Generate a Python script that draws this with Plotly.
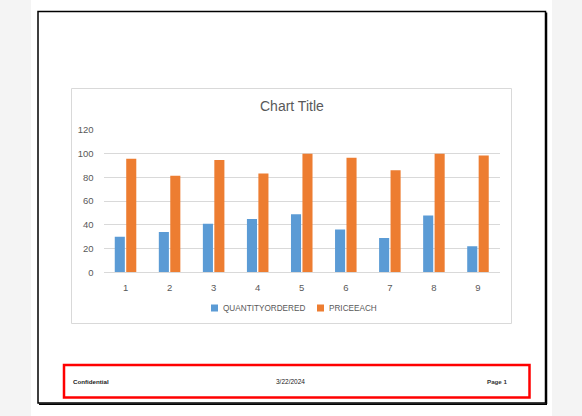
import plotly.graph_objects as go

categories = [1, 2, 3, 4, 5, 6, 7, 8, 9]
quantity_ordered = [30, 34, 41, 45, 49, 36, 29, 48, 22]
price_each = [95.7, 81.35, 94.74, 83.26, 100, 96.66, 86.13, 100, 98.57]
y_ticks = [0, 20, 40, 60, 80, 100, 120]
series_names = ["QUANTITYORDERED", "PRICEEACH"]
series_colors = ["#5B9BD5", "#ED7D31"]

W, H = 582, 416


def px(x):
    return x / W


def py(y):
    return 1 - y / H


fig = go.Figure()
for name, vals, col in zip(series_names, [quantity_ordered, price_each], series_colors):
    fig.add_trace(go.Bar(x=categories, y=vals, name=name,
                         marker=dict(color=col, line=dict(width=0))))

shapes = [
    # white page
    dict(type="rect", xref="paper", yref="paper", x0=px(31), x1=px(552), y0=py(416), y1=py(0),
         fillcolor="white", line=dict(width=0), layer="below"),
    # black page border
    dict(type="rect", xref="paper", yref="paper", x0=px(38), x1=px(545.5), y0=py(403), y1=py(11.5),
         fillcolor="rgba(0,0,0,0)", line=dict(color="black", width=1.5), layer="below"),
    dict(type="line", xref="paper", yref="paper", x0=px(546.5), x1=px(546.5), y0=py(404), y1=py(12.5),
         line=dict(color="black", width=1.5), layer="below"),
    dict(type="line", xref="paper", yref="paper", x0=px(39), x1=px(547), y0=py(404.2), y1=py(404.2),
         line=dict(color="black", width=1.5), layer="below"),
    # chart area
    dict(type="rect", xref="paper", yref="paper", x0=px(71.5), x1=px(511.5), y0=py(323.5), y1=py(88.5),
         fillcolor="white", line=dict(color="#D9D9D9", width=1), layer="below"),
    # red footer box
    dict(type="rect", xref="paper", yref="paper", x0=px(64), x1=px(529.5), y0=py(397.5), y1=py(365),
         fillcolor="rgba(0,0,0,0)", line=dict(color="#FF0000", width=2.5), layer="above"),
]

annotations = [
    dict(text="Chart Title", xref="paper", yref="paper", x=px(292), y=py(106), showarrow=False,
         xanchor="center", yanchor="middle",
         font=dict(family="Liberation Sans, Arial", size=14, color="#595959")),
    dict(text="<b>Confidential</b>", xref="paper", yref="paper", x=px(71), y=py(381.5), showarrow=False,
         xanchor="left", yanchor="middle",
         font=dict(family="Liberation Sans, Arial", size=6.2, color="#1a1a1a")),
    dict(text="3/22/2024", xref="paper", yref="paper", x=px(290), y=py(381.5), showarrow=False,
         xanchor="center", yanchor="middle",
         font=dict(family="Liberation Sans, Arial", size=6.5, color="#1a1a1a")),
    dict(text="<b>Page 1</b>", xref="paper", yref="paper", x=px(510), y=py(381.5), showarrow=False,
         xanchor="right", yanchor="middle",
         font=dict(family="Liberation Sans, Arial", size=6.2, color="#333333")),
]

# legend (drawn as swatches + labels to match the compact Excel legend)
legend_x = [211, 317]
for lx, name, col in zip(legend_x, series_names, series_colors):
    shapes.append(dict(type="rect", xref="paper", yref="paper", x0=px(lx), x1=px(lx + 7),
                       y0=py(311.5), y1=py(304.5), fillcolor=col, line=dict(width=0)))
    annotations.append(dict(text=name, xref="paper", yref="paper", x=px(lx + 9.5), y=py(308),
                            showarrow=False, xanchor="left", yanchor="middle",
                            font=dict(family="Liberation Sans, Arial", size=8.2, color="#595959")))

fig.update_layout(
    width=W, height=H,
    margin=dict(l=0, r=0, t=0, b=0, pad=0, autoexpand=False),
    paper_bgcolor="#F4F4F4",
    plot_bgcolor="rgba(0,0,0,0)",
    barmode="group",
    bargap=0.48,
    bargroupgap=0.12,
    shapes=shapes,
    annotations=annotations,
    font=dict(family="Liberation Sans, Arial", color="#595959"),
    xaxis=dict(domain=[px(103.5), px(500)], range=[0.5, 9.5], tickvals=categories,
               ticktext=[str(c) for c in categories], showgrid=False, zeroline=False,
               showline=True, linecolor="#D9D9D9", linewidth=1, ticks="",
               ticklabelstandoff=6, automargin=False,
               tickfont=dict(size=9.5, color="#595959"), fixedrange=True),
    yaxis=dict(domain=[py(272.3), py(130)], range=[0, 120], tickvals=y_ticks,
               showgrid=True, gridcolor="#D9D9D9", gridwidth=1, zeroline=False,
               showline=False, ticks="", ticklabelstandoff=9, automargin=False,
               tickfont=dict(size=9.5, color="#595959"), fixedrange=True),
    showlegend=False,
)

fig.write_html("out.html", config={"displayModeBar": False},
               post_script="document.body.style.margin='0';document.body.style.overflow='hidden';")
